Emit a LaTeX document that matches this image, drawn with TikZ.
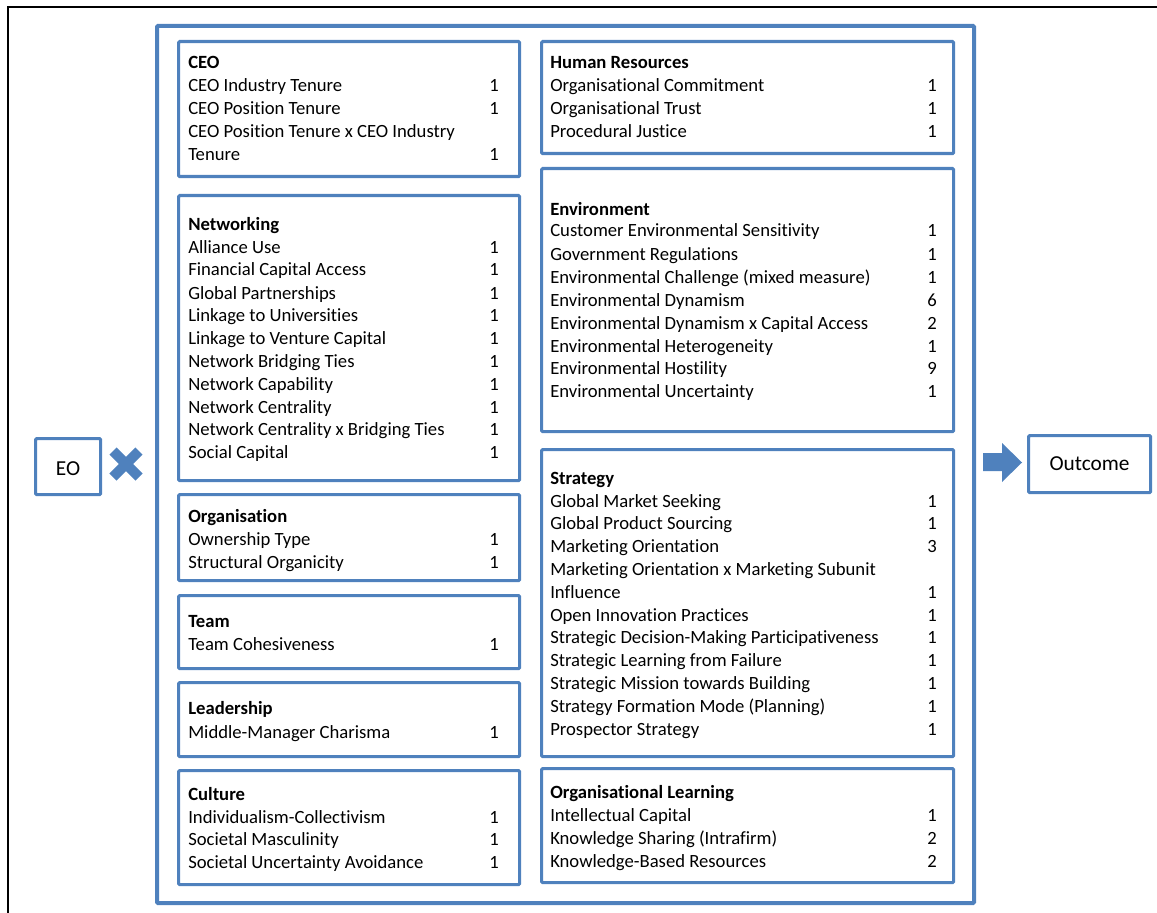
\documentclass[tikz,border=0pt]{standalone}
\usepackage{fontspec}
\setmainfont[Ligatures=NoCommon]{Carlito}
\begin{document}
\definecolor{eoblue}{RGB}{79,129,189}
\tikzset{
  box/.style={draw=eoblue, line width=2.4pt, rounded corners=0.8pt, inner sep=0pt, anchor=north west},
  frame/.style={draw=eoblue, line width=3pt, rounded corners=0.8pt, inner sep=0pt, anchor=north west},
  itm/.style={anchor=base west, inner sep=0pt, font=\fontsize{14}{16}\selectfont},
  num/.style={anchor=base east, inner sep=0pt, font=\fontsize{14}{16}\selectfont},
  ttl/.style={anchor=base west, inner sep=0pt, font=\fontsize{14}{16}\selectfont\bfseries},
  lbl/.style={inner sep=0pt, font=\fontsize{16}{18}\selectfont},
}
% panel: name, left, top, right, bottom (pixel units)
\newcommand\panel[6][box]{%
  \node[#1, minimum width={(#5-#3)*0.75pt}, minimum height={(#6-#4)*0.75pt}] (#2) at (#3,#4) {};}
% list of entries: prefix, text x, number x, y/text/number list
\newcommand\rows[4]{%
  \foreach \y/\t/\n [count=\i] in {#4} {
    \node[itm] (#1-\i) at (#2,\y+7) {\t};
    \node[num] (#1n-\i) at (#3,\y+7) {\n};
  }}
\begin{tikzpicture}[x=0.75pt, y=-0.75pt]
\useasboundingbox (0,0) rectangle (1157,913);
% page border
\draw[line width=1.6pt, black] (8,920) -- (8,7) -- (1165,7);

% outer frame
\panel[frame]{frame}{155}{24}{972}{901}

% left column
\panel{ceo}{177}{40}{518}{175}
\node[ttl] (ceo-t) at (188,69) {CEO};
\rows{ceo}{188}{499}{85/{CEO Industry Tenure}/1, 108/{CEO Position Tenure}/1,
  131/{CEO Position Tenure x CEO Industry}/{}, 154/{Tenure}/1}

\panel{net}{177}{194}{518}{479}
\node[ttl] (net-t) at (188,230) {Networking};
\rows{net}{188}{499}{246/{Alliance Use}/1, 269/{Financial Capital Access}/1,
  292/{Global Partnerships}/1, 314/{Linkage to Universities}/1,
  337/{Linkage to Venture Capital}/1, 360/{Network Bridging Ties}/1,
  383/{Network Capability}/1, 406/{Network Centrality}/1,
  428/{Network Centrality x Bridging Ties}/1, 451/{Social Capital}/1}

\panel{org}{177}{493}{518}{579}
\node[ttl] (org-t) at (188,522) {Organisation};
\rows{org}{188}{499}{538/{Ownership Type}/1, 561/{Structural Organicity}/1}

\panel{team}{177}{594}{518}{667}
\node[ttl] (team-t) at (188,627) {Team};
\rows{team}{188}{499}{643/{Team Cohesiveness}/1}

\panel{lead}{177}{681}{518}{755}
\node[ttl] (lead-t) at (188,714) {Leadership};
\rows{lead}{188}{499}{731/{Middle-Manager Charisma}/1}

\panel{cult}{177}{769}{518}{883}
\node[ttl] (cult-t) at (188,800) {Culture};
\rows{cult}{188}{499}{816/{Individualism-Collectivism}/1, 838/{Societal Masculinity}/1,
  861/{Societal Uncertainty Avoidance}/1}

% right column
\panel{hr}{540}{40}{952}{152}
\node[ttl] (hr-t) at (550,69) {Human Resources};
\rows{hr}{550}{937}{85/{Organisational Commitment}/1, 108/{Organisational Trust}/1,
  131/{Procedural Justice}/1}

\panel{env}{540}{167}{952}{430}
\node[ttl] (env-t) at (550,215) {Environment};
\rows{env}{550}{937}{230/{Customer Environmental Sensitivity}/1,
  253/{Government Regulations}/1, 276/{Environmental Challenge (mixed measure)}/1,
  299/{Environmental Dynamism}/6, 322/{Environmental Dynamism x Capital Access}/2,
  345/{Environmental Heterogeneity}/1, 367/{Environmental Hostility}/9,
  390/{Environmental Uncertainty}/1}

\panel{strat}{540}{448}{952}{755}
\node[ttl] (strat-t) at (550,484) {Strategy};
\rows{strat}{550}{937}{500/{Global Market Seeking}/1, 522/{Global Product Sourcing}/1,
  545/{Marketing Orientation}/3, 568/{Marketing Orientation x Marketing Subunit}/{},
  591/{Influence}/1, 614/{Open Innovation Practices}/1,
  636/{Strategic Decision-Making Participativeness}/1,
  659/{Strategic Learning from Failure}/1, 682/{Strategic Mission towards Building}/1,
  705/{Strategy Formation Mode (Planning)}/1, 728/{Prospector Strategy}/1}

\panel{learn}{540}{767}{952}{881}
\node[ttl] (learn-t) at (550,798) {Organisational Learning};
\rows{learn}{550}{937}{814/{Intellectual Capital}/1, 837/{Knowledge Sharing (Intrafirm)}/2,
  860/{Knowledge-Based Resources}/2}

% EO and multiplication sign
\panel{eo}{34}{437}{99}{493}
\node[lbl] (eo-t) at ([yshift=-1.5pt]eo.center) {EO};
\draw[eoblue, line width=7.5pt] (113,451) -- (139,477) (139,451) -- (113,477);

% block arrow and outcome
\fill[eoblue] (983,453) -- (1002,453) -- (1002,443) -- (1022,462.5)
  -- (1002,482) -- (1002,471) -- (983,471) -- cycle;
\panel{out}{1027}{434}{1149}{491}
\node[lbl] (out-t) at (out.center) {Outcome};
\end{tikzpicture}
\end{document}
